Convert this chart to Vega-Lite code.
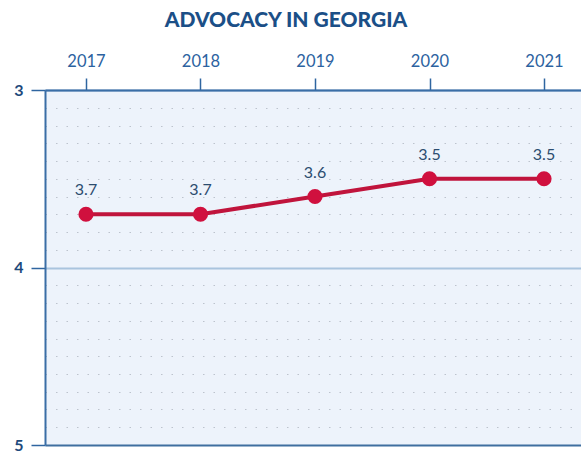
{
  "$schema": "https://vega.github.io/schema/vega-lite/v6.json",
  "width": 536,
  "height": 355,
  "autosize": {"type": "none"},
  "padding": {"left": 45, "top": 90, "right": 0, "bottom": 6},
  "background": "#ffffff",
  "config": {
    "font": "Lato",
    "view": {"fill": "#edf3fb", "stroke": null}
  },
  "title": {
    "text": "ADVOCACY IN GEORGIA",
    "font": "Lato",
    "fontSize": 21,
    "fontWeight": 900,
    "color": "#1b4f87",
    "anchor": "middle",
    "dx": -27,
    "offset": 22
  },
  "data": {
    "values": [
      {"year": 2017, "score": 3.7},
      {"year": 2018, "score": 3.7},
      {"year": 2019, "score": 3.6},
      {"year": 2020, "score": 3.5},
      {"year": 2021, "score": 3.5}
    ]
  },
  "encoding": {
    "x": {
      "field": "year",
      "type": "quantitative",
      "scale": {"domain": [2016.642, 2021.323], "nice": false, "zero": false},
      "axis": {
        "orient": "top",
        "title": null,
        "values": [2017, 2018, 2019, 2020, 2021],
        "format": "d",
        "grid": false,
        "tickSize": 12,
        "tickWidth": 1.5,
        "tickColor": "#2f65a0",
        "labelFontSize": 16.5,
        "labelColor": "#2c62a0",
        "labelPadding": 9,
        "domainColor": "#3a6ea6",
        "domainWidth": 1.5
      }
    },
    "y": {
      "field": "score",
      "type": "quantitative",
      "scale": {"domain": [3, 5], "reverse": true, "nice": false, "zero": false},
      "axis": {
        "orient": "left",
        "title": null,
        "values": [3, 3.1, 3.2, 3.3, 3.4, 3.5, 3.6, 3.7, 3.8, 3.9, 4, 4.1, 4.2, 4.3, 4.4, 4.5, 4.6, 4.7, 4.8, 4.9, 5],
        "labelExpr": "(datum.value === 3 || datum.value === 4 || datum.value === 5) ? toString(datum.value) : ''",
        "labelOverlap": false,
        "labelBound": false,
        "labelFontSize": 16,
        "labelFontWeight": "bold",
        "labelColor": "#1e4a7c",
        "labelPadding": 8,
        "tickSize": 14,
        "tickWidth": 1.5,
        "tickColor": "#2f65a0",
        "tickOpacity": {"condition": {"test": "datum.value === 3 || datum.value === 4 || datum.value === 5", "value": 1}, "value": 0},
        "domainColor": "#3a6ea6",
        "domainWidth": 2,
        "grid": true,
        "gridColor": {"condition": [{"test": "datum.value === 4", "value": "#a9c4de"}, {"test": "datum.value === 5", "value": "#3f6f9f"}, {"test": "datum.value === 3", "value": "#3a6ea6"}], "value": "#bcc3cd"},
        "gridWidth": {"condition": {"test": "datum.value === 3 || datum.value === 4 || datum.value === 5", "value": 2}, "value": 1},
        "gridDash": {"condition": {"test": "datum.value === 3 || datum.value === 4 || datum.value === 5", "value": []}, "value": [1.5, 9]}
      }
    }
  },
  "layer": [
    {
      "mark": {"type": "line", "color": "#c0143c", "strokeWidth": 4}
    },
    {
      "mark": {"type": "point", "filled": true, "shape": "circle", "size": 230, "color": "#d0103e", "opacity": 1}
    },
    {
      "mark": {"type": "text", "dy": -19, "baseline": "alphabetic", "fontSize": 16, "color": "#2b4c6f"},
      "encoding": {"text": {"field": "score", "type": "quantitative", "format": ".1f"}}
    }
  ]
}
